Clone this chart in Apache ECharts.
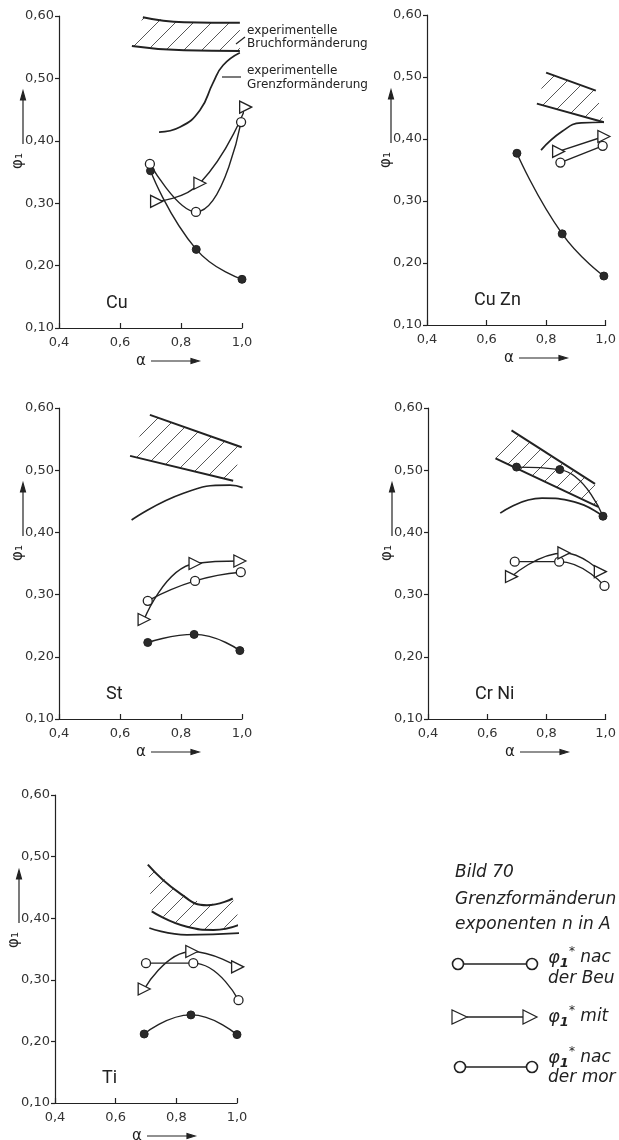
<!DOCTYPE html>
<html><head><meta charset="utf-8">
<script src="https://cdn.jsdelivr.net/npm/echarts@6/dist/echarts.min.js"></script>
<style>html,body{margin:0;padding:0;background:#fff}#c{width:619px;height:1140px}</style>
</head><body><div id="c"></div>
<script>
// ---------- tick labels / names ----------
const xTicks = ['0,4', '0,6', '0,8', '1,0'];
const yTicks = ['0,10', '0,20', '0,30', '0,40', '0,50', '0,60'];
const panelNames = ['Cu', 'Cu Zn', 'St', 'Cr Ni', 'Ti'];

// ---------- Cu ----------
const cuFilled = [[0.70, 0.352], [0.85, 0.226], [1.00, 0.178]];
const cuOpen   = [[0.698, 0.363], [0.849, 0.286], [0.997, 0.430]];
const cuTri    = [[0.72, 0.303], [0.862, 0.332], [1.012, 0.454]];
const cuBandTop = [[0.675, 0.598], [0.81, 0.590], [0.993, 0.589]];
const cuBandBot = [[0.639, 0.552], [0.81, 0.545], [0.993, 0.544]];
const cuGrenz  = [[0.728, 0.414], [0.797, 0.422], [0.862, 0.449], [0.905, 0.493], [0.938, 0.521], [0.993, 0.541]];

// ---------- Cu Zn ----------
const czFilled = [[0.702, 0.377], [0.854, 0.247], [0.994, 0.179]];
const czOpen   = [[0.848, 0.362], [0.990, 0.389]];
const czTri    = [[0.842, 0.380], [0.994, 0.404]];
const czBandTop = [[0.80, 0.507], [0.967, 0.478]];
const czBandBot = [[0.769, 0.457], [0.994, 0.427]];
const czGrenz  = [[0.783, 0.382], [0.853, 0.412], [0.918, 0.426], [0.994, 0.427]];

// ---------- St ----------
const stFilled = [[0.691, 0.223], [0.843, 0.236], [0.993, 0.210]];
const stOpen   = [[0.691, 0.290], [0.846, 0.322], [0.996, 0.336]];
const stTri    = [[0.679, 0.260], [0.846, 0.350], [0.993, 0.354]];
const stBandTop = [[0.698, 0.589], [0.999, 0.537]];
const stBandBot = [[0.633, 0.523], [0.971, 0.483]];
const stGrenz  = [[0.638, 0.420], [0.808, 0.463], [0.961, 0.476], [1.002, 0.472]];

// ---------- Cr Ni ----------
const cnFilled = [[0.699, 0.505], [0.845, 0.501], [0.991, 0.426]];
const cnOpen   = [[0.693, 0.353], [0.843, 0.353], [0.996, 0.314]];
const cnTri    = [[0.682, 0.329], [0.859, 0.367], [0.982, 0.337]];
const cnBandTop = [[0.682, 0.564], [0.964, 0.478]];
const cnBandBot = [[0.628, 0.519], [0.975, 0.441]];
const cnGrenz  = [[0.644, 0.431], [0.785, 0.455], [0.894, 0.449], [0.991, 0.426]];

// ---------- Ti ----------
const tiFilled = [[0.694, 0.212], [0.848, 0.243], [1.00, 0.211]];
const tiOpen   = [[0.700, 0.327], [0.856, 0.327], [1.005, 0.267]];
const tiTri    = [[0.694, 0.285], [0.851, 0.346], [1.002, 0.321]];
const tiBandTop = [[0.706, 0.487], [0.813, 0.440], [0.901, 0.421], [0.986, 0.432]];
const tiBandBot = [[0.719, 0.411], [0.835, 0.386], [0.923, 0.381], [1.011, 0.390]];
const tiGrenz  = [[0.711, 0.384], [0.835, 0.373], [1.011, 0.376]];

const panels = [
  {filled: cuFilled, open: cuOpen, tri: cuTri, top: cuBandTop, bot: cuBandBot, grenz: cuGrenz},
  {filled: czFilled, open: czOpen, tri: czTri, top: czBandTop, bot: czBandBot, grenz: czGrenz},
  {filled: stFilled, open: stOpen, tri: stTri, top: stBandTop, bot: stBandBot, grenz: stGrenz},
  {filled: cnFilled, open: cnOpen, tri: cnTri, top: cnBandTop, bot: cnBandBot, grenz: cnGrenz},
  {filled: tiFilled, open: tiOpen, tri: tiTri, top: tiBandTop, bot: tiBandBot, grenz: tiGrenz}
];

// ---------- layout ----------
const grids = [
  {left: 59,  top: 16,  width: 183, height: 312},
  {left: 427, top: 15,  width: 185, height: 310},
  {left: 59,  top: 408, width: 183, height: 311},
  {left: 428, top: 408, width: 185, height: 311},
  {left: 55,  top: 795, width: 182, height: 308}
];
const INK = '#222';

// hatch pattern
const HS = 18;
const hc = document.createElement('canvas');
hc.width = HS; hc.height = HS;
const hctx = hc.getContext('2d');
hctx.strokeStyle = '#444'; hctx.lineWidth = 0.9;
hctx.beginPath();
hctx.moveTo(0, HS); hctx.lineTo(HS, 0);
hctx.moveTo(-4, 4); hctx.lineTo(4, -4);
hctx.moveTo(HS - 4, HS + 4); hctx.lineTo(HS + 4, HS - 4);
hctx.stroke();

function hatchSeries(i, top, bot) {
  return {
    type: 'custom', xAxisIndex: i, yAxisIndex: i, data: top, silent: true, z: 1, clip: false,
    renderItem: function (params, api) {
      if (params.dataIndex !== 0) return null;
      const pts = top.map(p => api.coord(p)).concat(bot.slice().reverse().map(p => api.coord(p)));
      return {type: 'polygon', shape: {points: pts}, style: {fill: {image: hc, repeat: 'repeat'}, stroke: null}};
    }
  };
}
function plainLine(i, data, w) {
  return {type: 'line', xAxisIndex: i, yAxisIndex: i, data: data, smooth: 0.5, showSymbol: false,
    symbol: 'none', clip: false, silent: true, z: 2, lineStyle: {color: INK, width: w}};
}
function markerLine(i, data, kind) {
  const s = {type: 'line', xAxisIndex: i, yAxisIndex: i, data: data, smooth: 0.5, clip: false,
    silent: true, z: 3, lineStyle: {color: INK, width: 1.4}, showSymbol: true};
  if (kind === 'filled') {
    s.symbol = 'circle'; s.symbolSize = 8; s.itemStyle = {color: '#2a2a2a', borderColor: INK, borderWidth: 1};
  } else if (kind === 'open') {
    s.symbol = 'circle'; s.symbolSize = 9; s.z = 4; s.itemStyle = {color: '#fff', borderColor: INK, borderWidth: 1.3};
  } else {
    s.symbol = 'triangle'; s.symbolSize = 12; s.symbolRotate = -90; s.z = 4;
    s.itemStyle = {color: '#fff', borderColor: INK, borderWidth: 1.3};
  }
  return s;
}

const series = [];
panels.forEach((p, i) => {
  series.push(hatchSeries(i, p.top, p.bot));
  series.push(plainLine(i, p.top, 2));
  series.push(plainLine(i, p.bot, 2));
  series.push(plainLine(i, p.grenz, 1.7));
  series.push(markerLine(i, p.filled, 'filled'));
  series.push(markerLine(i, p.open, 'open'));
  series.push(markerLine(i, p.tri, 'tri'));
});

// ---------- decorations ----------
const graphics = [];
function txt(x, y, text, font, align, extra) {
  const st = Object.assign({text: text, font: font, fill: INK, align: align || 'left', textAlign: align || 'left',
    verticalAlign: 'middle', textVerticalAlign: 'middle'}, extra || {});
  return {type: 'text', x: x, y: y, style: st, silent: true};
}
function seg(x1, y1, x2, y2, w) {
  return {type: 'line', shape: {x1, y1, x2, y2}, style: {stroke: INK, lineWidth: w || 1.2}, silent: true};
}
function poly(pts, fill) {
  return {type: 'polygon', shape: {points: pts}, style: {fill: fill || INK, stroke: INK, lineWidth: 1.2}, silent: true};
}
grids.forEach((g, i) => {
  const b = g.top + g.height;
  graphics.push(txt(g.left + 47, b - 25, panelNames[i], '18px Roboto', 'left'));
  // y axis name with arrow
  const ax = g.left - 36;
  graphics.push(seg(ax, g.top + 128, ax, g.top + 82));
  graphics.push(poly([[ax - 2.5, g.top + 84], [ax + 2.5, g.top + 84], [ax, g.top + 75]]));
  const phi = txt(g.left - 41, g.top + 145, 'φ₁', '15px "DejaVu Sans"', 'center');
  phi.rotation = Math.PI / 2;
  graphics.push(phi);
  // x axis name with arrow
  const yb = b + 33;
  graphics.push(txt(g.left + 82, yb, 'α', '15px "DejaVu Sans"', 'center'));
  graphics.push(seg(g.left + 92, yb, g.left + 133, yb));
  graphics.push(poly([[g.left + 132, yb - 2.5], [g.left + 132, yb + 2.5], [g.left + 140, yb]]));
});
// annotations in Cu panel
graphics.push(txt(247, 31, 'experimentelle', '12px "DejaVu Sans"'));
graphics.push(txt(247, 44, 'Bruchformänderung', '12px "DejaVu Sans"'));
graphics.push(txt(247, 71, 'experimentelle', '12px "DejaVu Sans"'));
graphics.push(txt(247, 85, 'Grenzformänderung', '12px "DejaVu Sans"'));
graphics.push(seg(236, 44, 245, 37, 1.2));
graphics.push(seg(222, 77, 241, 77, 1.2));

// caption / legend block
const capFont = 'italic 17px "DejaVu Sans"';
graphics.push(txt(455, 873, 'Bild 70', capFont));
graphics.push(txt(455, 900, 'Grenzformänderun', capFont));
graphics.push(txt(455, 925, 'exponenten n in A', capFont));
const rich = {
  p: {fontSize: 18, fontStyle: 'italic', fontFamily: 'DejaVu Sans', lineHeight: 24, verticalAlign: 'middle'},
  s: {fontSize: 13, fontStyle: 'italic', fontWeight: 'bold', fontFamily: 'DejaVu Sans', lineHeight: 24, verticalAlign: 'bottom'},
  a: {fontSize: 12, fontFamily: 'DejaVu Sans', lineHeight: 24, verticalAlign: 'top'},
  t: {fontSize: 17, fontStyle: 'italic', fontFamily: 'DejaVu Sans', lineHeight: 24, verticalAlign: 'middle'}
};
function phiText(y, word) {
  return txt(548, y, '{p|φ}{s|1}{a|*}{t| ' + word + '}', '17px "DejaVu Sans"', 'left', {rich: rich});
}
// row 1
graphics.push(seg(463, 964, 527, 964, 1.6));
graphics.push({type: 'circle', shape: {cx: 458, cy: 964, r: 5.5}, style: {fill: '#fff', stroke: INK, lineWidth: 1.6}, silent: true});
graphics.push({type: 'circle', shape: {cx: 532, cy: 964, r: 5.5}, style: {fill: '#fff', stroke: INK, lineWidth: 1.6}, silent: true});
graphics.push(phiText(958, 'nac'));
graphics.push(txt(548, 979, 'der Beu', capFont));
// row 2
graphics.push(seg(467, 1017, 523, 1017, 1.6));
graphics.push(poly([[452, 1010], [452, 1024], [467, 1017]], '#fff'));
graphics.push(poly([[523, 1010], [523, 1024], [537, 1017]], '#fff'));
graphics.push(phiText(1017, 'mit'));
// row 3
graphics.push(seg(466, 1067, 526, 1067, 1.6));
graphics.push({type: 'circle', shape: {cx: 460, cy: 1067, r: 5.5}, style: {fill: '#fff', stroke: INK, lineWidth: 1.6}, silent: true});
graphics.push({type: 'circle', shape: {cx: 532, cy: 1067, r: 5.5}, style: {fill: '#fff', stroke: INK, lineWidth: 1.6}, silent: true});
graphics.push(phiText(1058, 'nac'));
graphics.push(txt(548, 1078, 'der mor', capFont));

const option = {
  animation: false,
  backgroundColor: '#fff',
  grid: grids.map(g => Object.assign({containLabel: false}, g)),
  xAxis: grids.map((g, i) => ({
    gridIndex: i, type: 'value', min: 0.4, max: 1.0, interval: 0.2,
    axisLine: {onZero: false, lineStyle: {color: INK, width: 1.2}},
    axisTick: {inside: true, length: 5, lineStyle: {color: INK, width: 1.2}},
    splitLine: {show: false},
    axisLabel: {formatter: v => xTicks[Math.round((v - 0.4) / 0.2)], color: '#333', fontSize: 13,
      fontFamily: 'DejaVu Sans', margin: 8}
  })),
  yAxis: grids.map((g, i) => ({
    gridIndex: i, type: 'value', min: 0.1, max: 0.6, interval: 0.1,
    axisLine: {onZero: false, lineStyle: {color: INK, width: 1.2}},
    axisTick: {inside: false, length: 4, lineStyle: {color: INK, width: 1.2}},
    splitLine: {show: false},
    axisLabel: {formatter: v => yTicks[Math.round((v - 0.1) / 0.1)], color: '#333', fontSize: 13,
      fontFamily: 'DejaVu Sans', margin: 5}
  })),
  series: series,
  graphic: {elements: graphics}
};
const chart = echarts.init(document.getElementById('c'), null, {renderer: 'canvas'});
chart.setOption(option);
</script>
</body></html>
